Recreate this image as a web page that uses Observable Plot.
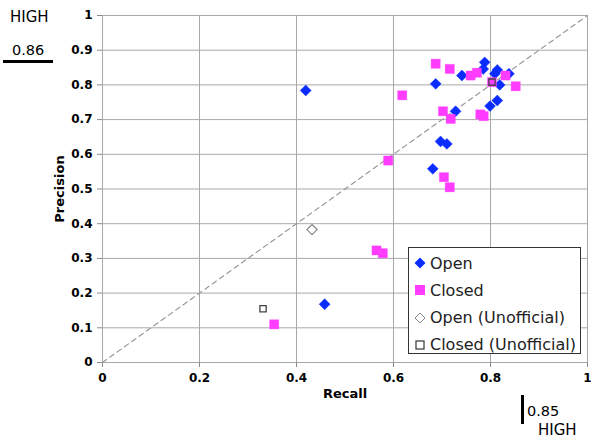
<!DOCTYPE html>
<html>
<head>
<meta charset="utf-8">
<script src="https://cdn.jsdelivr.net/npm/d3@7"></script>
<script src="https://cdn.jsdelivr.net/npm/@observablehq/plot@0.6"></script>
<style>
  body { margin: 0; background: #fff; }
  #wrap { position: relative; width: 591px; height: 440px; font-family: "DejaVu Sans", Verdana, sans-serif; }
  .ann { position: absolute; font-family: "DejaVu Sans", sans-serif; font-size: 14px; color: #000; line-height: 1; }
  #legend { position: absolute; left: 408px; top: 247px; width: 173px; height: 107px; background: #fff; border: 1.5px solid #333; box-sizing: border-box; }
  .li { position: absolute; left: 0; height: 24px; display: flex; align-items: center; font-size: 16px; color: #222; white-space: nowrap; }
  .li svg { margin-left: 5px; margin-right: 4px; }
</style>
</head>
<body>
<div id="wrap"></div>
<script>
// Data (Recall, Precision)
const openRecall      = [0.788, 0.785, 0.741, 0.814, 0.809, 0.838, 0.819, 0.687, 0.814, 0.799, 0.728, 0.697, 0.710, 0.681, 0.419, 0.458];
const openPrecision   = [0.865, 0.846, 0.827, 0.843, 0.832, 0.832, 0.800, 0.803, 0.755, 0.739, 0.724, 0.637, 0.630, 0.558, 0.784, 0.168];
const closedRecall    = [0.687, 0.716, 0.759, 0.772, 0.831, 0.803, 0.852, 0.618, 0.702, 0.718, 0.779, 0.786, 0.704, 0.716, 0.589, 0.565, 0.578, 0.354];
const closedPrecision = [0.861, 0.846, 0.827, 0.835, 0.827, 0.808, 0.796, 0.770, 0.724, 0.702, 0.715, 0.710, 0.534, 0.505, 0.582, 0.323, 0.315, 0.110];
const openUnofRecall     = [0.432];
const openUnofPrecision  = [0.383];
const closedUnofRecall    = [0.331, 0.803];
const closedUnofPrecision = [0.155, 0.808];
const xTicks = [0, 0.2, 0.4, 0.6, 0.8, 1];
const yTicks = [0, 0.1, 0.2, 0.3, 0.4, 0.5, 0.6, 0.7, 0.8, 0.9, 1];
const diagonal = [0, 1];
const seriesNames = ["Open", "Closed", "Open (Unofficial)", "Closed (Unofficial)"];

const zip = (xs, ys) => xs.map((x, i) => ({x, y: ys[i]}));
const openData = zip(openRecall, openPrecision);
const closedData = zip(closedRecall, closedPrecision);
const openUnof = zip(openUnofRecall, openUnofPrecision);
const closedUnof = zip(closedUnofRecall, closedUnofPrecision);
const diag = diagonal.map(v => ({x: v, y: v}));

const BLUE = "#0a2cff";
const PINK = "#ff3cff";
const fmt = d => String(+d.toFixed(2));

const chart = Plot.plot({
  width: 591,
  height: 440,
  marginLeft: 102,
  marginRight: 4,
  marginTop: 15,
  marginBottom: 78,
  style: {fontFamily: "DejaVu Sans, Verdana, sans-serif", background: "#fff"},
  x: {domain: [0, 1]},
  y: {domain: [0, 1]},
  marks: [
    Plot.gridX(xTicks, {stroke: "#a8a8a8", strokeOpacity: 1, strokeWidth: 1}),
    Plot.gridY(yTicks, {stroke: "#a8a8a8", strokeOpacity: 1, strokeWidth: 1}),
    Plot.axisX(xTicks, {tickSize: 5, stroke: "#888", fontSize: 12, fontWeight: "bold", tickPadding: 6, tickFormat: fmt,
      label: "Recall", labelAnchor: "center", labelArrow: "none", labelOffset: 35}),
    Plot.axisY(yTicks, {tickSize: 5, stroke: "#888", fontSize: 12, fontWeight: "bold", tickPadding: 5, tickFormat: fmt,
      label: "Precision", labelAnchor: "center", labelArrow: "none", labelOffset: 48}),
    Plot.line(diag, {x: "x", y: "y", stroke: "#999", strokeWidth: 1.2, strokeDasharray: "5,4"}),
    Plot.dot(openData, {x: "x", y: "y", symbol: "diamond2", r: 4.9, fill: BLUE, stroke: BLUE, strokeWidth: 0.5}),
    Plot.dot(closedData, {x: "x", y: "y", symbol: "square", r: 5.2, fill: PINK, stroke: PINK, strokeWidth: 0.3}),
    Plot.dot(openUnof, {x: "x", y: "y", symbol: "diamond2", r: 4.6, fill: "white", stroke: "#888", strokeWidth: 1.2}),
    Plot.dot(closedUnof, {x: "x", y: "y", symbol: "square2", r: 4.0, fill: "none", stroke: "#444", strokeWidth: 1.3})
  ]
});
chart.querySelectorAll("g[aria-label='x-axis label'] text, g[aria-label='y-axis label'] text").forEach(t => {
  t.setAttribute("font-weight", "bold");
  t.setAttribute("font-size", "13");
});

const wrap = document.getElementById("wrap");
wrap.appendChild(chart);

// Legend
const legend = document.createElement("div");
legend.id = "legend";
const legendSymbols = [
  `<svg width="12" height="12"><path d="M6,0.5L11.5,6L6,11.5L0.5,6Z" fill="${BLUE}"/></svg>`,
  `<svg width="12" height="12"><rect x="1" y="1" width="10" height="10" fill="${PINK}"/></svg>`,
  `<svg width="12" height="12"><path d="M6,1L11,6L6,11L1,6Z" fill="white" stroke="#888" stroke-width="1"/></svg>`,
  `<svg width="12" height="12"><rect x="2" y="2" width="8" height="8" fill="white" stroke="#444" stroke-width="1.3"/></svg>`
];
seriesNames.forEach((name, i) => {
  const row = document.createElement("div");
  row.className = "li";
  row.style.top = (3 + i * 27.3) + "px";
  row.innerHTML = legendSymbols[i] + `<span>${name}</span>`;
  legend.appendChild(row);
});
wrap.appendChild(legend);

// Annotations
const annotations = [
  {text: "HIGH", left: 10, top: 10, size: 15},
  {text: "0.86", left: 12, top: 43, size: 14.5},
  {text: "0.85", left: 527, top: 404, size: 14.5},
  {text: "HIGH", left: 538, top: 423, size: 15}
];
annotations.forEach(a => {
  const d = document.createElement("div");
  d.className = "ann";
  d.textContent = a.text;
  d.style.left = a.left + "px";
  d.style.top = a.top + "px";
  d.style.fontSize = a.size + "px";
  wrap.appendChild(d);
});
const underline = document.createElement("div");
underline.style.cssText = "position:absolute;left:3px;top:60px;width:50px;height:3px;background:#000;";
wrap.appendChild(underline);
const bar = document.createElement("div");
bar.style.cssText = "position:absolute;left:521px;top:395px;width:3px;height:29px;background:#000;";
wrap.appendChild(bar);
</script>
</body>
</html>
